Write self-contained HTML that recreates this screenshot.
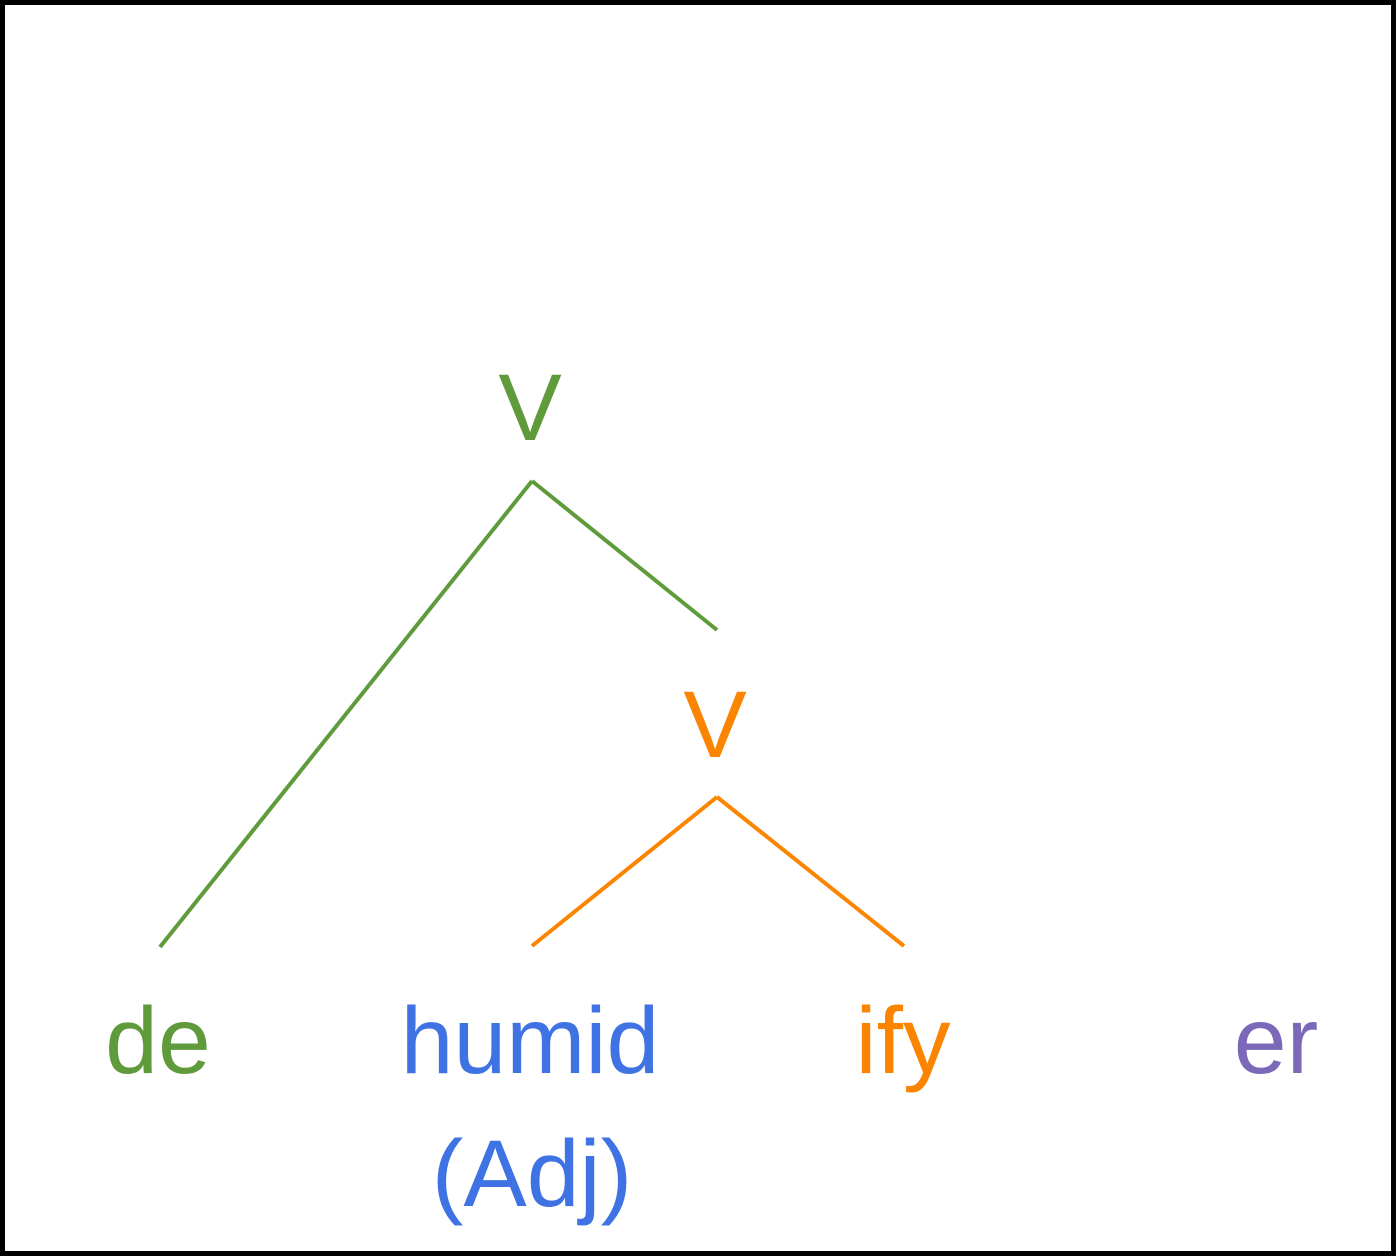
<!DOCTYPE html>
<html><head><meta charset="utf-8"><style>
html,body{margin:0;padding:0;background:#fff}
svg{display:block}
text{font-family:"Liberation Sans",Arial,sans-serif;font-size:95px;text-anchor:middle}
</style></head><body>
<svg width="1396" height="1256">
<rect x="2.5" y="2.5" width="1391" height="1251" fill="#fff" stroke="#000" stroke-width="5"/>
<text x="530" y="440" fill="#5f9b3b">V</text>
<line x1="532" y1="481" x2="160" y2="947" stroke="#5f9b3b" stroke-width="4"/>
<line x1="532" y1="481" x2="717" y2="630" stroke="#5f9b3b" stroke-width="4"/>
<text x="715" y="757" fill="#fb8500">V</text>
<line x1="717" y1="797" x2="532" y2="946" stroke="#fb8500" stroke-width="4"/>
<line x1="717" y1="797" x2="904" y2="946" stroke="#fb8500" stroke-width="4"/>
<text x="158" y="1073" fill="#5f9b3b">de</text>
<text x="530" y="1073" fill="#3f73e4">humid</text>
<text x="532" y="1206" fill="#3f73e4">(Adj)</text>
<text x="903" y="1073" fill="#fb8500">ify</text>
<text x="1276" y="1073" fill="#7b68b8">er</text>
</svg>
</body></html>
